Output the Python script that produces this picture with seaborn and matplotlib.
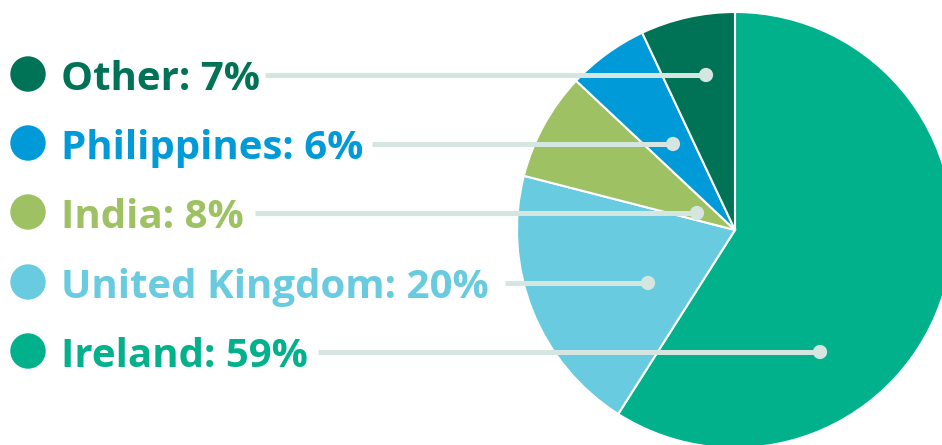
import matplotlib
matplotlib.use("Agg")
import matplotlib.pyplot as plt
import seaborn as sns
import pandas as pd

sns.set_style("white")
plt.rcParams['font.family'] = ['Open Sans', 'DejaVu Sans']

# data
countries = ["Ireland", "United Kingdom", "India", "Philippines", "Other"]
shares = [59, 20, 8, 6, 7]
colors = ["#00b18b", "#69cbe0", "#9dc163", "#009ad9", "#007256"]

# label rows, top to bottom
label_order = ["Other", "Philippines", "India", "United Kingdom", "Ireland"]
row_y = [75, 144, 213, 283, 352]
dot_x = [706, 673, 697, 648, 820]
line_start = [265, 372, 255, 505, 318]

W, H = 942, 445
fig = plt.figure(figsize=(W / 100, H / 100), dpi=100)
ax = fig.add_axes([0, 0, 1, 1])
ax.set_xlim(0, W)
ax.set_ylim(0, H)
ax.set_aspect("equal")
ax.axis("off")

cx, cy, r = 735, H - 230, 218
ax.pie(shares, colors=colors, startangle=90, counterclock=False,
       center=(cx, cy), radius=r,
       wedgeprops=dict(edgecolor="white", linewidth=1.5))
ax.set_xlim(0, W)
ax.set_ylim(0, H)

line_col = "#d5e6e0"
for name, y, x0, x1 in zip(label_order, row_y, line_start, dot_x):
    ax.plot([x0, x1], [H - y, H - y], color=line_col, lw=3.6,
            solid_capstyle="butt", zorder=3)

dots = pd.DataFrame({"x": dot_x, "y": [H - y for y in row_y]})
sns.scatterplot(data=dots, x="x", y="y", ax=ax, s=105, color=line_col,
                edgecolor="none", zorder=4, legend=False)

col_map = dict(zip(countries, colors))
legend_df = pd.DataFrame({"x": [28] * 5, "y": [H - y + 1 for y in row_y],
                          "country": label_order})
sns.scatterplot(data=legend_df, x="x", y="y", hue="country",
                palette=col_map, ax=ax, s=650, edgecolor="none",
                legend=False, zorder=4)

share_map = dict(zip(countries, shares))
for name, y in zip(label_order, row_y):
    ax.text(61, H - y - 15, f"{name}: {share_map[name]}%",
            color=col_map[name], fontsize=29, fontweight="bold",
            va="baseline", ha="left")

ax.set_xlabel("")
ax.set_ylabel("")
ax.set_xlim(0, W)
ax.set_ylim(0, H)
fig.savefig("out.png", dpi=100)
